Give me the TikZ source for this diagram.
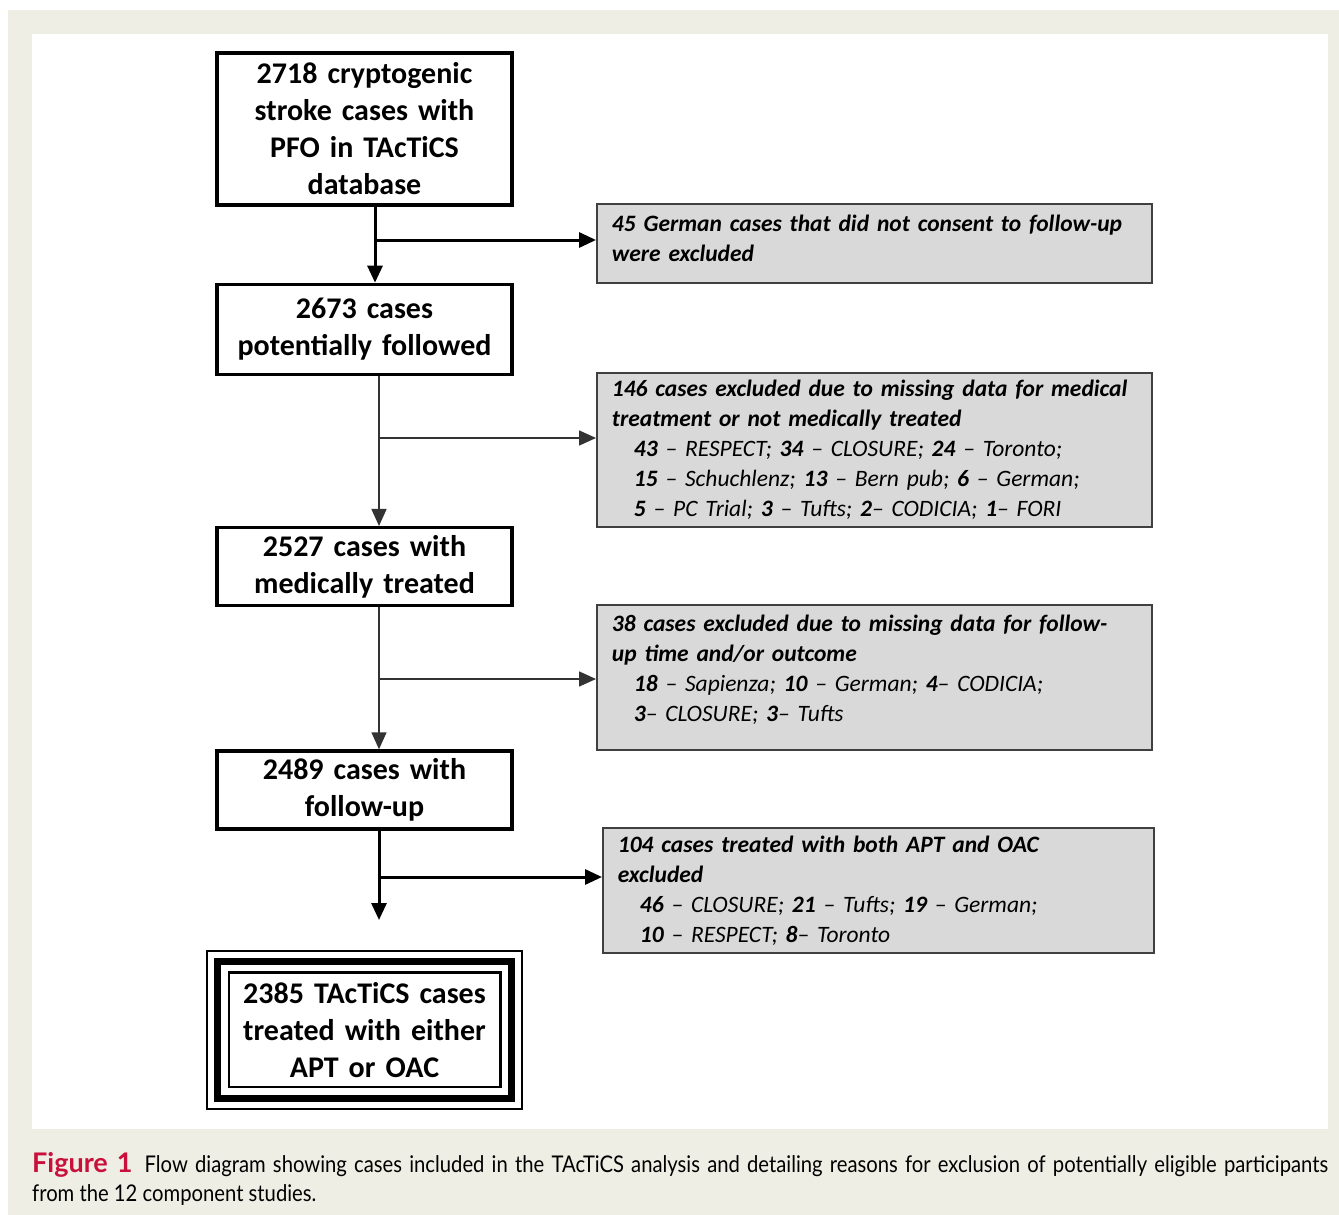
\documentclass[tikz,border=0pt]{standalone}
\usepackage{fontspec}
\setmainfont{Carlito}
\newfontfamily\capfont[FakeStretch=0.88]{Lato}
\newfontfamily\figfont{Lato}
\usetikzlibrary{positioning,arrows.meta}
\definecolor{pagebg}{RGB}{239,238,228}
\definecolor{exgray}{RGB}{217,217,217}
\definecolor{figred}{RGB}{200,16,58}
\newcommand{\cnt}[1]{\textbf{#1}}
\newcommand{\ind}{\hspace*{22pt}}

\begin{document}
\begin{tikzpicture}[x=1pt,y=-1pt,
    mainbox/.style={draw, line width=3.3pt, minimum width=295pt, text width=285pt, inner sep=0pt,
      align=center, font=\bfseries\fontsize{30}{37}\selectfont},
    exbox/.style={draw=black!75, line width=1.8pt, fill=exgray, anchor=north west, text width=525pt,
      inner xsep=15pt, inner ysep=0pt, align=left, font=\itshape\fontsize{23.5}{30}\selectfont},
    flow/.style={line width=3pt, -{Triangle[length=17pt,width=15pt]}},
    thinflow/.style={line width=1.6pt, draw=black!80, -{Triangle[length=17pt,width=15pt]}}]
    \useasboundingbox (0,0) rectangle (1339,1215);
    \fill[pagebg] (8,10) rectangle (1339,1215);
    \fill[white] (32,34) rectangle (1328,1129);

    % main column
    \node[mainbox, minimum height=152pt] (cohort) at (364.5,129) {2718 cryptogenic\\stroke cases with\\PFO in TAcTiCS\\database};
    \node[mainbox, minimum height=90pt, below=76pt of cohort] (followed) {2673 cases\\potentially followed};
    \node[mainbox, minimum height=78pt, below=150pt of followed] (medtreated) {2527 cases with\\medically treated};
    \node[mainbox, minimum height=78pt, below=142pt of medtreated] (withfu) {2489 cases with\\follow-up};
    \node[mainbox, line width=2.5pt, minimum width=315pt, minimum height=158pt, below=119pt of withfu] (analysed) {2385 TAcTiCS cases\\treated with either\\APT or OAC};
    \draw[line width=7pt] ([shift={(12,12)}]analysed.north west) rectangle ([shift={(-12,-12)}]analysed.south east);
    \draw[line width=2.5pt] ([shift={(23,23)}]analysed.north west) rectangle ([shift={(-23,-23)}]analysed.south east);

    % exclusions
    \node[exbox, minimum height=79pt] (noconsent) at (596,203) {\textbf{45 German cases that did not consent to follow-up}\\\textbf{were excluded}\\[-20pt]\mbox{}};
    \node[exbox, minimum height=154pt] (nomed) at (596,372) {\textbf{146 cases excluded due to missing data for medical}\\\textbf{treatment or not medically treated}\\
      \ind\cnt{43} – RESPECT; \cnt{34} – CLOSURE; \cnt{24} – Toronto;\\
      \ind\cnt{15} – Schuchlenz; \cnt{13} – Bern pub; \cnt{6} – German;\\
      \ind\cnt{5} – PC Trial; \cnt{3} – Tufts; \cnt{2}– CODICIA; \cnt{1}– FORI};
    \node[exbox, minimum height=145pt] (nofu) at (596,604) {\textbf{38 cases excluded due to missing data for follow-}\\\textbf{up time and/or outcome}\\
      \ind\cnt{18} – Sapienza; \cnt{10} – German; \cnt{4}– CODICIA;\\
      \ind\cnt{3}– CLOSURE; \cnt{3}– Tufts\\[-12pt]\mbox{}};
    \node[exbox, minimum height=125pt, text width=521pt] (both) at (602,827) {\textbf{104 cases treated with both APT and OAC}\\\textbf{excluded}\\
      \ind\cnt{46} – CLOSURE; \cnt{21} – Tufts; \cnt{19} – German;\\
      \ind\cnt{10} – RESPECT; \cnt{8}– Toronto};

    \coordinate (j1) at (375,240);
    \coordinate (j2) at (379,438);
    \coordinate (j3) at (379,679);
    \coordinate (j4) at (379,877);
    \coordinate (fuend) at (379,920); % arrow stops short of the last box

    \draw[flow] (j1 |- cohort.south) -- (j1 |- followed.north);
    \draw[flow] (j1) -- (j1 -| noconsent.west);
    \draw[thinflow] (j2 |- followed.south) -- (j2 |- medtreated.north);
    \draw[thinflow] (j2) -- (j2 -| nomed.west);
    \draw[thinflow] (j3 |- medtreated.south) -- (j3 |- withfu.north);
    \draw[thinflow] (j3) -- (j3 -| nofu.west);
    \draw[flow] (j4 |- withfu.south) -- (fuend);
    \draw[flow] (j4) -- (j4 -| both.west);

    \node[anchor=north west, text width=1296pt, align=justify, inner sep=0pt,
      font=\capfont\fontsize{23}{29}\selectfont] (caption) at (32,1152)
      {{\figfont\color{figred}\bfseries\fontsize{27}{29}\selectfont Figure 1}\hspace{12pt}Flow diagram showing cases included in the TAcTiCS analysis and detailing reasons for exclusion of potentially eligible participants\linebreak from the 12 component studies.};
\end{tikzpicture}
\end{document}
